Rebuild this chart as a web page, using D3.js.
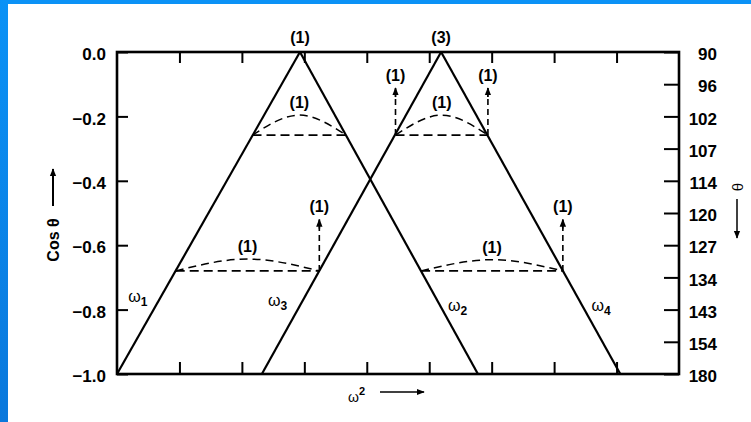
<!DOCTYPE html>
<html>
<head>
<meta charset="utf-8">
<script src="https://cdn.jsdelivr.net/npm/d3@7"></script>
<style>
  html, body { margin: 0; padding: 0; background: #fff; }
  svg { display: block; }
  text { font-family: "Liberation Sans", Arial, sans-serif; font-weight: bold; fill: #000; }
</style>
</head>
<body>
<script>
// ---- data ----------------------------------------------------------------
// horizontal scale: omega^2 in arbitrary units (frame spans 0..9)
const xTicks = [1, 2, 3, 4, 5, 6, 7, 8];
// left scale: cos(theta)
const cosTicks = [0, -0.2, -0.4, -0.6, -0.8, -1.0];
const cosTickLabels = ["0.0", "\u22120.2", "\u22120.4", "\u22120.6", "\u22120.8", "\u22121.0"];
// right scale: theta in degrees at cos = 0, -0.1, ... -1.0
const thetaTickPos = [0, -0.1, -0.2, -0.3, -0.4, -0.5, -0.6, -0.7, -0.8, -0.9, -1.0];
const thetaTickLabels = ["90", "96", "102", "107", "114", "120", "127", "134", "143", "154", "180"];

// solid branches: [omega^2, cos] end points
const branchNames = ["1", "2", "3", "4"];
const branchStart = [[0.00, -1], [2.93, 0], [2.32, -1], [5.19, 0]];
const branchEnd   = [[2.93, 0], [5.78, -1], [5.19, 0], [8.06, -1]];
// branch label anchors
const branchLabelPos = [[0.18, -0.775], [5.30, -0.805], [2.42, -0.79], [7.60, -0.805]];

// dashed transitions: left x, right x, level, arc peak
const jumpLeft  = [2.17, 4.46, 0.94, 4.87];
const jumpRight = [3.67, 5.94, 3.24, 7.14];
const jumpLevel = [-0.258, -0.258, -0.68, -0.68];
const jumpPeak  = [-0.196, -0.196, -0.643, -0.645];
const jumpLabel = ["(1)", "(1)", "(1)", "(1)"];

// dashed upward arrows: x, from cos, to cos
const arrowX    = [4.46, 5.94, 3.24, 7.14];
const arrowFrom = [-0.258, -0.258, -0.68, -0.68];
const arrowTo   = [-0.112, -0.112, -0.52, -0.52];
const arrowLabel = ["(1)", "(1)", "(1)", "(1)"];

// apex labels
const apexX = [2.93, 5.19];
const apexLabel = ["(1)", "(3)"];

// ---- layout --------------------------------------------------------------
const W = 751, H = 422;
const svg = d3.select("body").append("svg").attr("width", W).attr("height", H);

svg.append("rect").attr("width", W).attr("height", H).attr("fill", "#fff");
const defs = svg.append("defs");
const edge = defs.append("linearGradient")
  .attr("id", "edge").attr("x1", 0).attr("y1", 0).attr("x2", 0).attr("y2", 1);
edge.append("stop").attr("offset", 0).attr("stop-color", "#0b92f6");
edge.append("stop").attr("offset", 1).attr("stop-color", "#0a78dc");
svg.append("rect").attr("x", 0).attr("y", 0).attr("width", W).attr("height", 4).attr("fill", "#0b92f6");
svg.append("rect").attr("x", 0).attr("y", 0).attr("width", 8).attr("height", H).attr("fill", "url(#edge)");

const x = d3.scaleLinear().domain([0, 9]).range([117, 679]);
const y = d3.scaleLinear().domain([-1, 0]).range([374, 52]);

// arrowheads
defs.append("marker").attr("id", "head").attr("viewBox", "0 0 10 10")
  .attr("refX", 9).attr("refY", 5).attr("markerWidth", 8).attr("markerHeight", 8)
  .attr("markerUnits", "userSpaceOnUse").attr("orient", "auto")
  .append("path").attr("d", "M0,1 L10,5 L0,9 Z").attr("fill", "#000");

// ---- axes ----------------------------------------------------------------
function styleAxis(g) {
  g.select(".domain").remove();
  g.selectAll(".tick line").attr("stroke", "#000").attr("stroke-width", 2);
  g.selectAll("text").style("font-size", "17px").style("font-family", "'Liberation Sans', Arial, sans-serif")
    .style("font-weight", "bold");
}

svg.append("g").attr("transform", `translate(${x(0)},0)`)
  .call(d3.axisLeft(y).tickValues(cosTicks).tickSize(-11).tickPadding(11)
    .tickFormat((d, i) => cosTickLabels[i]))
  .call(styleAxis)
  .call(g => g.selectAll("text").attr("dy", "0.45em"));

svg.append("g").attr("transform", `translate(${x(9)},0)`)
  .call(d3.axisRight(y).tickValues(thetaTickPos).tickSize(-15).tickPadding(6)
    .tickFormat((d, i) => thetaTickLabels[i]))
  .call(styleAxis)
  .call(g => g.selectAll("text").attr("text-anchor", "end").attr("x", 38).attr("dy", "0.45em"));

svg.append("g").attr("transform", `translate(0,${y(-1)})`)
  .call(d3.axisBottom(x).tickValues(xTicks).tickSize(-12).tickFormat(""))
  .call(styleAxis);

svg.append("g").attr("transform", `translate(0,${y(0)})`)
  .call(d3.axisTop(x).tickValues(xTicks).tickSize(-11).tickFormat(""))
  .call(styleAxis);

// frame
svg.append("rect")
  .attr("x", x(0)).attr("y", y(0))
  .attr("width", x(9) - x(0)).attr("height", y(-1) - y(0))
  .attr("fill", "none").attr("stroke", "#000").attr("stroke-width", 2.6);

// ---- dashed transitions ------------------------------------------------
const curve = d3.line().x(d => x(d[0])).y(d => y(d[1])).curve(d3.curveNatural);
jumpLevel.forEach((lv, i) => {
  const l = jumpLeft[i], r = jumpRight[i];
  svg.append("line")
    .attr("x1", x(l)).attr("y1", y(lv)).attr("x2", x(r)).attr("y2", y(lv))
    .attr("stroke", "#000").attr("stroke-width", 1.8).attr("stroke-dasharray", "9,5");
  svg.append("path")
    .attr("d", curve([[l, lv], [(l + r) / 2, jumpPeak[i]], [r, lv]]))
    .attr("fill", "none").attr("stroke", "#000").attr("stroke-width", 1.5)
    .attr("stroke-dasharray", "8,5");
  svg.append("text")
    .attr("x", x((l + r) / 2)).attr("y", y(jumpPeak[i]) - 7)
    .attr("text-anchor", "middle").style("font-size", "16px").text(jumpLabel[i]);
});

// ---- dashed upward arrows ------------------------------------------------
arrowX.forEach((ax, i) => {
  svg.append("line")
    .attr("x1", x(ax)).attr("y1", y(arrowFrom[i])).attr("x2", x(ax)).attr("y2", y(arrowTo[i]) + 8)
    .attr("stroke", "#000").attr("stroke-width", 1.6).attr("stroke-dasharray", "6,4");
  svg.append("line")
    .attr("x1", x(ax)).attr("y1", y(arrowTo[i]) + 9).attr("x2", x(ax)).attr("y2", y(arrowTo[i]))
    .attr("stroke", "#000").attr("stroke-width", 1.8).attr("marker-end", "url(#head)");
  svg.append("text")
    .attr("x", x(ax)).attr("y", y(arrowTo[i]) - 7)
    .attr("text-anchor", "middle").style("font-size", "16px").text(arrowLabel[i]);
});

// ---- solid branches ------------------------------------------------------
branchStart.forEach((s, i) => {
  const e = branchEnd[i];
  svg.append("line")
    .attr("x1", x(s[0])).attr("y1", y(s[1])).attr("x2", x(e[0])).attr("y2", y(e[1]))
    .attr("stroke", "#000").attr("stroke-width", 2.2);
  const p = branchLabelPos[i];
  const t = svg.append("text").attr("x", x(p[0])).attr("y", y(p[1]))
    .style("font-size", "16px").style("font-weight", "normal");
  t.append("tspan").text("\u03c9");
  t.append("tspan").attr("dy", 4).style("font-size", "12px").style("font-weight", "bold").text(branchNames[i]);
});

// apex labels
apexX.forEach((ax, i) => {
  svg.append("text").attr("x", x(ax)).attr("y", y(0) - 9)
    .attr("text-anchor", "middle").style("font-size", "16px").text(apexLabel[i]);
});

// ---- axis titles ---------------------------------------------------------
svg.append("text")
  .attr("transform", "translate(59,240) rotate(-90)")
  .attr("text-anchor", "middle").style("font-size", "16px").text("Cos \u03b8");
svg.append("line").attr("x1", 53).attr("y1", 206).attr("x2", 53).attr("y2", 169)
  .attr("stroke", "#000").attr("stroke-width", 2).attr("marker-end", "url(#head)");

svg.append("text")
  .attr("transform", "translate(743,187) rotate(-90)")
  .attr("text-anchor", "middle").style("font-size", "15px").style("font-weight", "normal").text("\u03b8");
svg.append("line").attr("x1", 737).attr("y1", 199).attr("x2", 737).attr("y2", 238)
  .attr("stroke", "#000").attr("stroke-width", 1.5).attr("marker-end", "url(#head)");

const wt = svg.append("text").attr("x", 348).attr("y", 402).style("font-size", "14px").style("font-weight", "normal");
wt.append("tspan").text("\u03c9");
wt.append("tspan").attr("dy", -7).style("font-size", "11px").style("font-weight", "bold").text("2");
svg.append("line").attr("x1", 380).attr("y1", 392).attr("x2", 424).attr("y2", 392)
  .attr("stroke", "#000").attr("stroke-width", 1.5).attr("marker-end", "url(#head)");
</script>
</body>
</html>
